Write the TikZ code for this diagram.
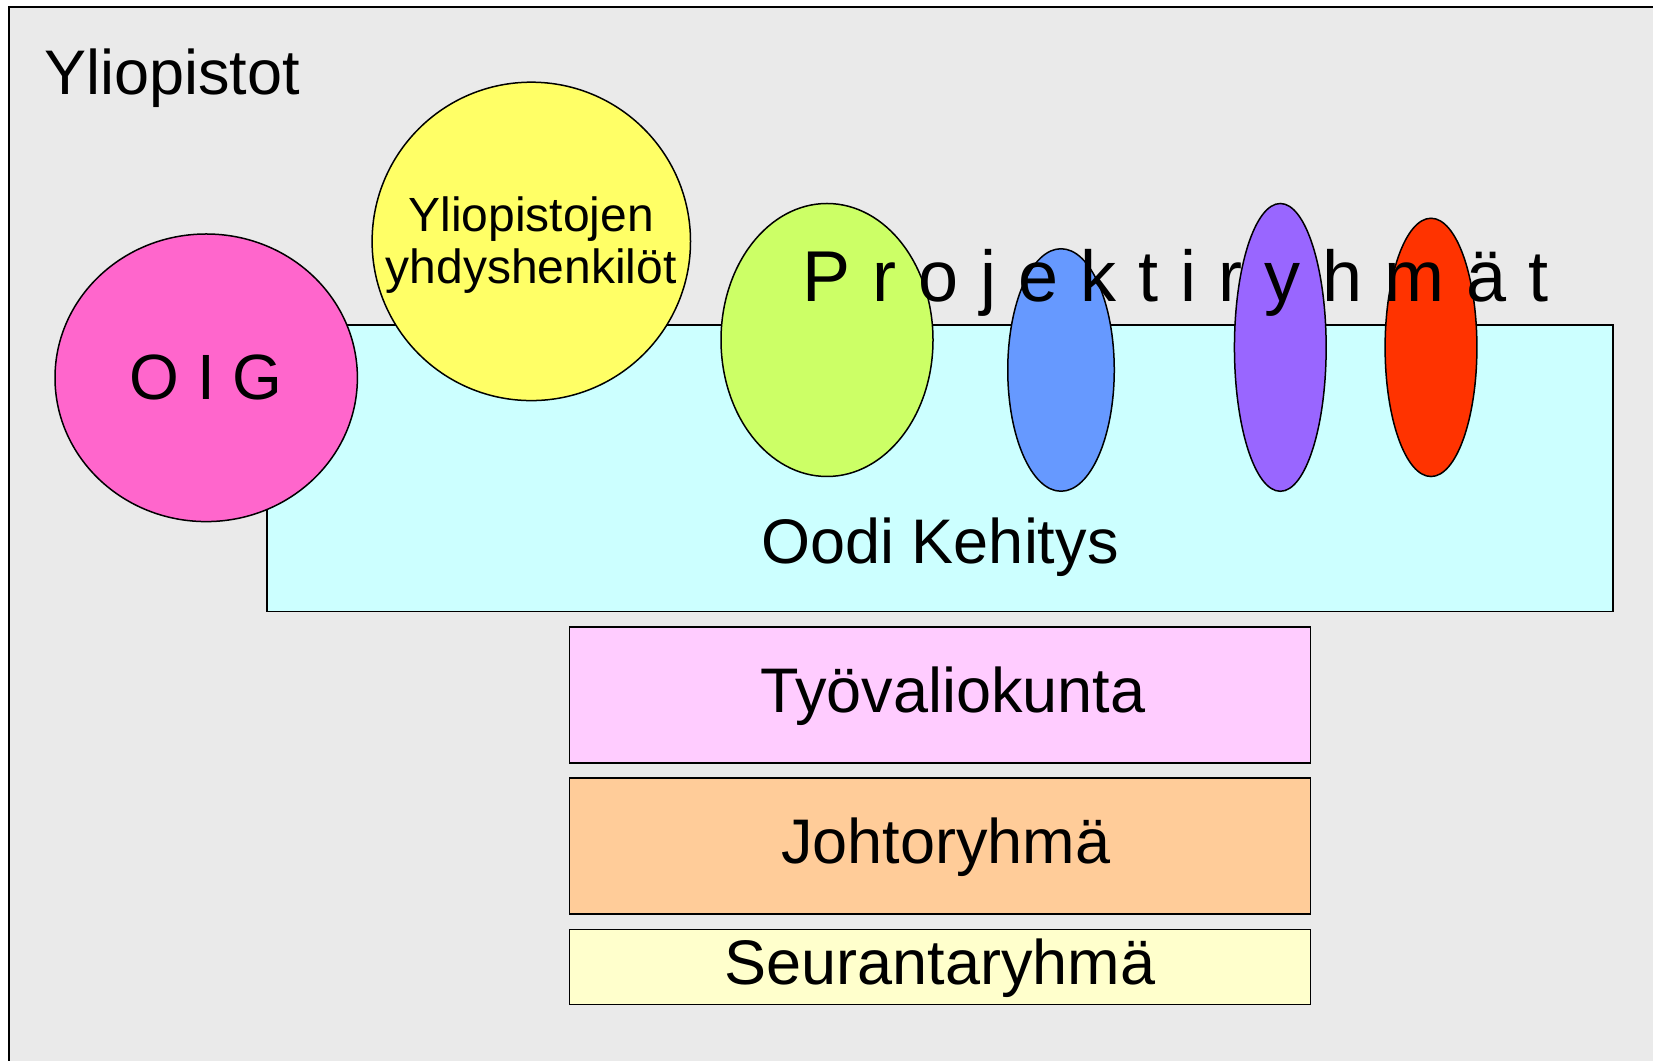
\documentclass[tikz,border=0pt]{standalone}
\usepackage{fontspec}
\setmainfont{Liberation Sans}
\usetikzlibrary{shapes.geometric}

\definecolor{harmaa}{HTML}{EAEAEA}
\definecolor{syaani}{HTML}{CCFFFF}
\definecolor{pinkki}{HTML}{FF66CC}
\definecolor{keltainen}{HTML}{FFFF66}
\definecolor{vihrea}{HTML}{CCFF66}
\definecolor{sininen}{HTML}{6699FF}
\definecolor{violetti}{HTML}{9966FF}
\definecolor{punainen}{HTML}{FF3300}
\definecolor{roosa}{HTML}{FFCCFF}
\definecolor{persikka}{HTML}{FFCC99}
\definecolor{kerma}{HTML}{FFFFCC}

\newcommand{\projektifontti}{\fontsize{72}{80}\selectfont\spaceskip 22pt\relax}

\begin{document}
\begin{tikzpicture}
[x=1pt, y=1pt,
 box/.style={rectangle, draw=black, line width=1.5pt, inner sep=0pt, text height=46pt, text depth=11pt, font=\fontsize{63}{70}\selectfont},
 bubble/.style={ellipse, draw=black, line width=1.5pt, inner sep=0pt},
 teksti/.style={inner sep=0pt, font=\fontsize{63}{70}\selectfont}]

\useasboundingbox (0,0) rectangle (1653,1060);

%Background
\draw[line width=1.5pt, fill=harmaa] (9,-20) rectangle (1680,1053);
\node[teksti, anchor=base west] (yliopistot) at (44,965.7) {Yliopistot};

%Nodes
\node[box, fill=syaani, minimum width=1346.3pt, minimum height=286.7pt] (kehitys) at (940,591.7) {};
\node[teksti, anchor=base] (kehitysteksti) at ([yshift=48.7pt]kehitys.south) {Oodi Kehitys};
\node[bubble, fill=pinkki, minimum width=302.4pt, minimum height=287.6pt, font=\fontsize{64}{70}\selectfont] (oig) at (206.2,682.2) {O I G};
\node[bubble, fill=keltainen, minimum width=318.4pt, minimum height=318.4pt] (yhdys) at (531.3,818.6) {};
\node[teksti, align=center, font=\fontsize{48}{51.5}\selectfont] (yhdysteksti) at (531.3,815) {Yliopistojen\\yhdyshenkilöt};

%Projektiryhmat
\node[bubble, fill=vihrea, minimum width=212pt, minimum height=273pt] (ryhma1) at (827,720) {};
\node[bubble, fill=sininen, minimum width=106.5pt, minimum height=242.5pt] (ryhma2) at (1061,690) {};
\node[bubble, fill=violetti, minimum width=91.7pt, minimum height=287.8pt] (ryhma3) at (1280.3,712.6) {};
\node[bubble, fill=punainen, minimum width=91.8pt, minimum height=258.3pt] (ryhma4) at (1431,712.6) {};
\node[teksti, anchor=base, font=\projektifontti] (projektit) at (1176,758.3) {P r o j e k t i r y h m ä t};

%Boxes
\node[box, fill=roosa, minimum width=741pt, minimum height=136pt] (tyo) at (939.9,364.8) {\hspace{26pt}Työvaliokunta};
\node[box, fill=persikka, minimum width=741pt, minimum height=136pt, below of=tyo, node distance=150.8pt] (johto) {\hspace{12pt}Johtoryhmä};
\node[box, fill=kerma, minimum width=741pt, minimum height=75pt, below of=johto, node distance=121.2pt] (seuranta) {Seurantaryhmä};

\end{tikzpicture}
\end{document}
